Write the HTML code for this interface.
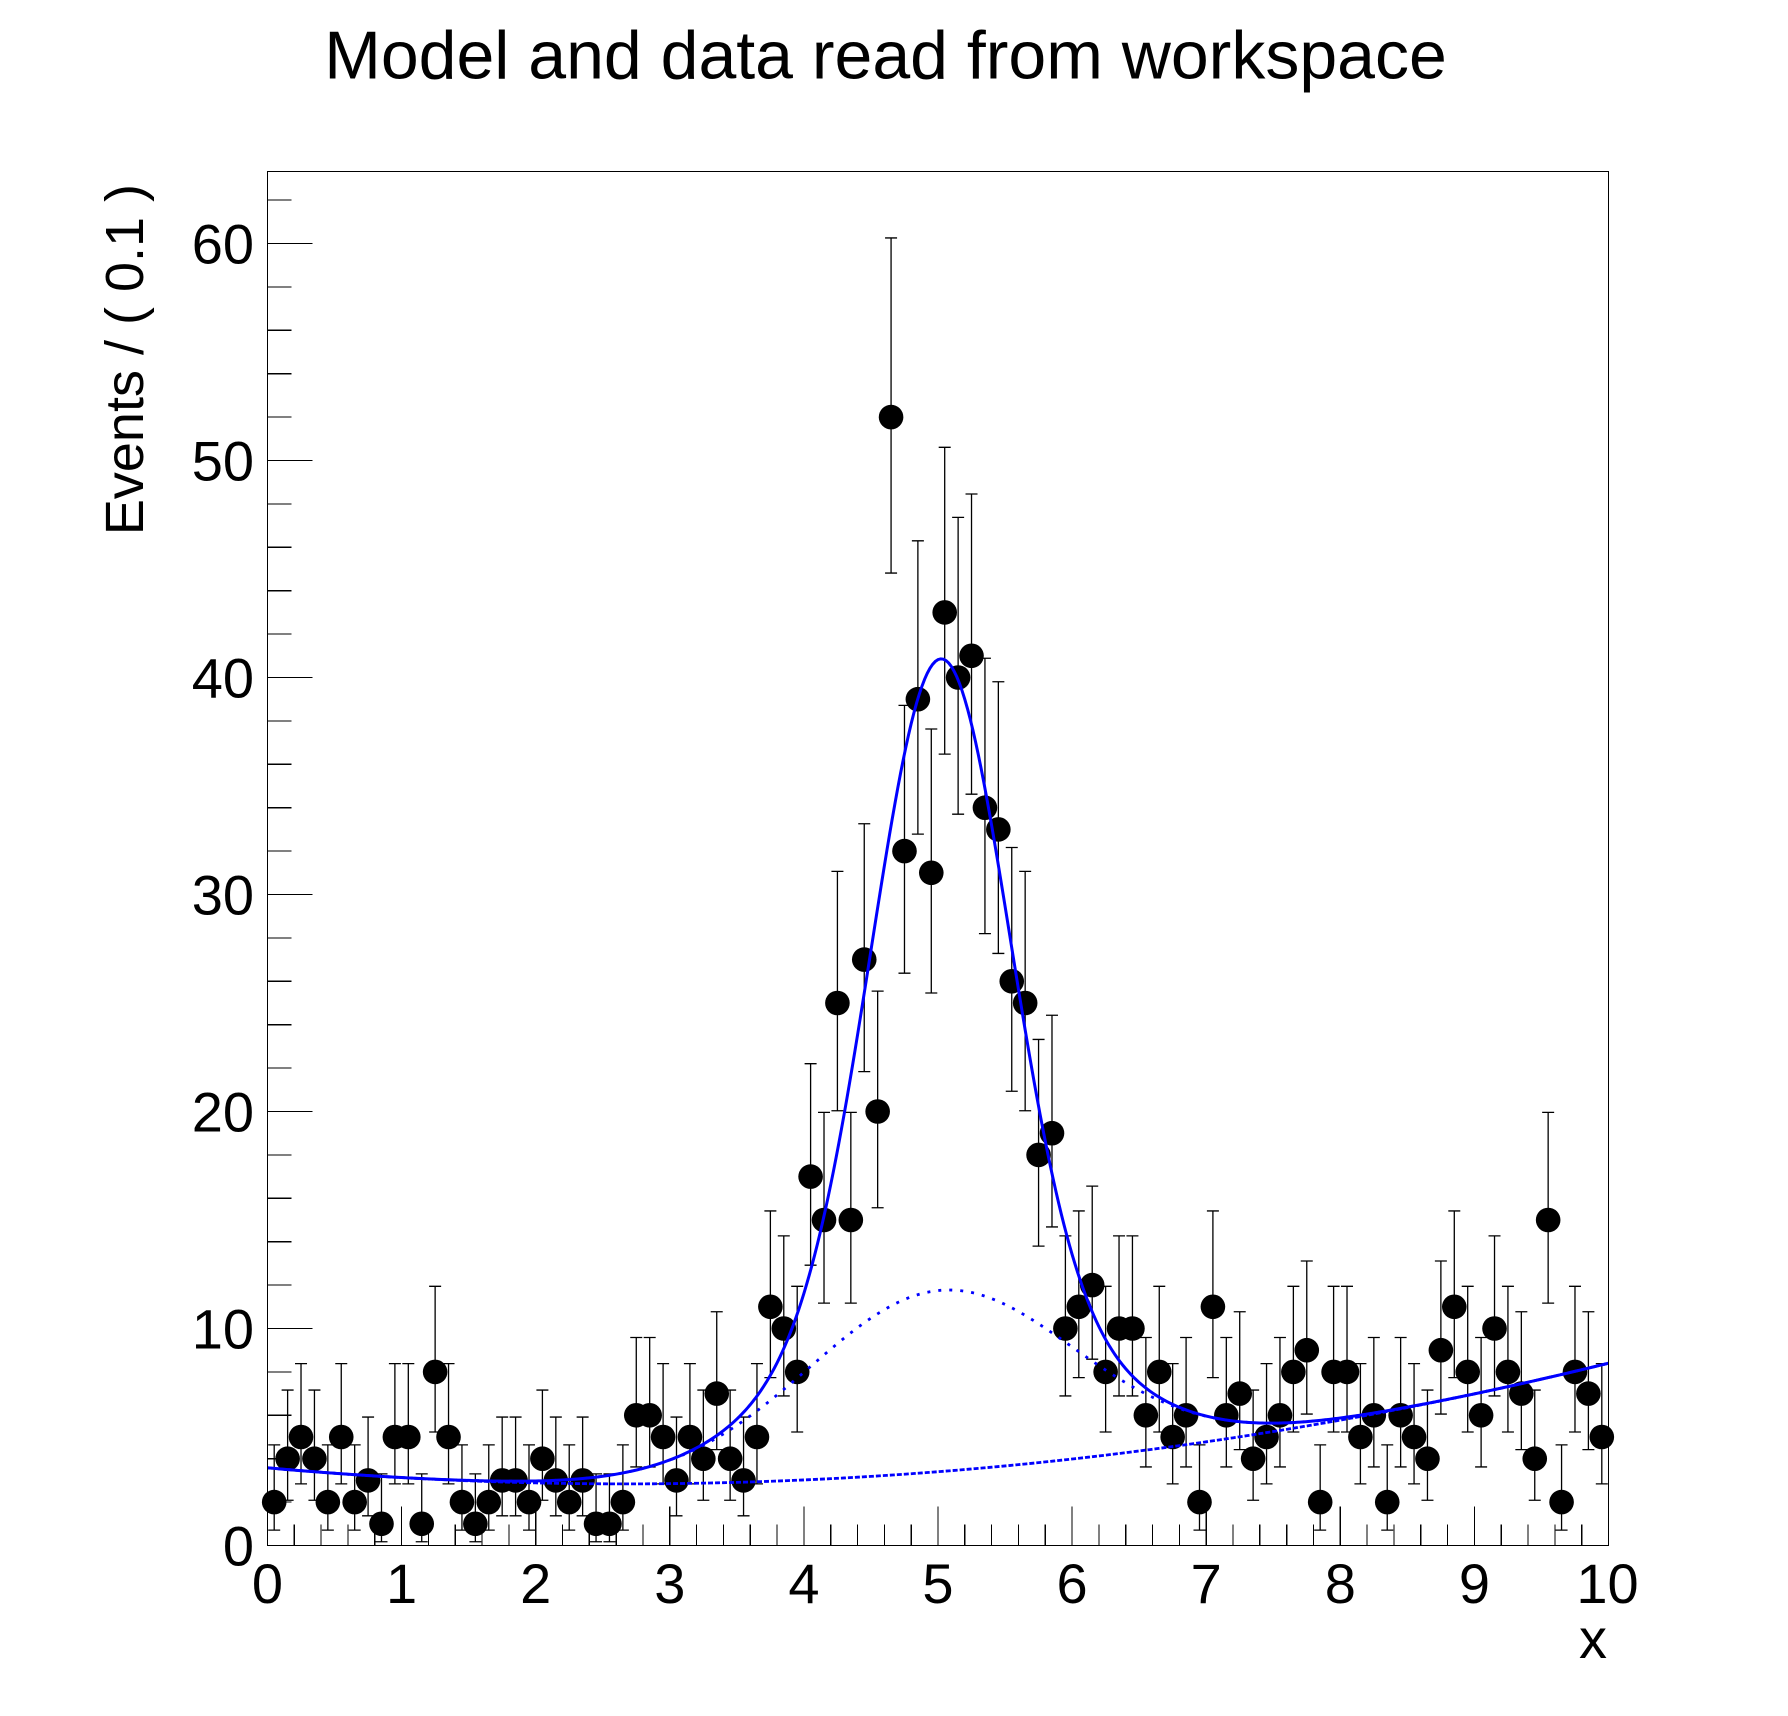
<!DOCTYPE html>
<html><head><meta charset="utf-8"><style>
html,body{margin:0;padding:0;background:#fff;}
svg{display:block;}
text{font-family:"Liberation Sans",Arial,Helvetica,sans-serif;fill:#000;}
</style></head><body>
<svg id="s" width="1788" height="1716" viewBox="0 0 1788 1716" xmlns="http://www.w3.org/2000/svg">
<rect x="0" y="0" width="1788" height="1716" fill="#fff"/>
<text x="885.5" y="78.5" font-size="68" text-anchor="middle">Model and data read from workspace</text>
<g id="data"></g>
<g id="curves"></g>
<rect x="267.5" y="171.5" width="1341" height="1374" fill="none" stroke="#000" stroke-width="1.2" shape-rendering="crispEdges"/>
<path id="ticks" d="" stroke="#000" stroke-width="1.2" fill="none" shape-rendering="crispEdges"/>
<g font-size="56" text-anchor="end">
<text x="254" y="1565.5">0</text>
<text x="254" y="1348.5">10</text>
<text x="254" y="1131.5">20</text>
<text x="254" y="914.5">30</text>
<text x="254" y="697.5">40</text>
<text x="254" y="480.5">50</text>
<text x="254" y="263.5">60</text>
</g>
<g font-size="56" text-anchor="middle">
<text x="267.5" y="1603">0</text>
<text x="401.6" y="1603">1</text>
<text x="535.7" y="1603">2</text>
<text x="669.8" y="1603">3</text>
<text x="803.9" y="1603">4</text>
<text x="938.0" y="1603">5</text>
<text x="1072.1" y="1603">6</text>
<text x="1206.2" y="1603">7</text>
<text x="1340.3" y="1603">8</text>
<text x="1474.4" y="1603">9</text>
<text x="1607.5" y="1603">10</text>
</g>
<text x="1607" y="1658" font-size="56" text-anchor="end">x</text>
<text transform="translate(143,184) rotate(-90)" font-size="54" text-anchor="end">Events / ( 0.1 )</text>
</svg>
<script>
(function(){
var NS="http://www.w3.org/2000/svg";
function X(v){return 267.5+v*134.1;}
function Y(v){return 1545.5-v*21.7;}
var d="";
for(var v=0;v<=62;v+=2){var L=(v%10===0)?45:24;d+="M267.5,"+Y(v).toFixed(2)+"h"+L;}
for(var k=0;k<=50;k++){var xv=k*0.2;var L2=(k%5===0)?39:21;d+="M"+X(xv).toFixed(2)+",1545.5v-"+L2;}
document.getElementById("ticks").setAttribute("d",d);
var vals=[2,4,5,4,2,5,2,3,1,5,
5,1,8,5,2,1,2,3,3,2,
4,3,2,3,1,1,2,6,6,5,
3,5,4,7,4,3,5,11,10,8,
17,15,25,15,27,20,52,32,39,31,
43,40,41,34,33,26,25,18,19,10,
11,12,8,10,10,6,8,5,6,2,
11,6,7,4,5,6,8,9,2,8,
8,5,6,2,6,5,4,9,11,8,
6,10,8,7,4,15,2,8,7,5];
function pcdf(n,mu){var t=Math.exp(-mu),s=t;for(var k=1;k<=n;k++){t*=mu/k;s+=t;}return s;}
function solve(f,target,lo,hi){for(var i=0;i<80;i++){var m=(lo+hi)/2;if(f(m)>target)lo=m;else hi=m;}return (lo+hi)/2;}
var a=0.1586553;
function lower(n){if(n===0)return 0;return solve(function(mu){return pcdf(n-1,mu);},1-a,0,n+30);}
function upper(n){return solve(function(mu){return pcdf(n,mu);},a,0,n+60);}
var g=document.getElementById("data");
var ed="";
for(var i=0;i<vals.length;i++){
 var n=vals[i];var x=X(0.05+0.1*i);
 var lo=Y(lower(n)),hi=Y(upper(n));
 ed+="M"+x.toFixed(2)+","+hi.toFixed(2)+"V"+lo.toFixed(2);
 ed+="M"+(x-6).toFixed(2)+","+hi.toFixed(2)+"h12";
 ed+="M"+(x-6).toFixed(2)+","+lo.toFixed(2)+"h12";
}
var p=document.createElementNS(NS,"path");
p.setAttribute("d",ed);p.setAttribute("stroke","#000");p.setAttribute("stroke-width","1.3");p.setAttribute("fill","none");
g.appendChild(p);
for(var j=0;j<vals.length;j++){
 var c=document.createElementNS(NS,"circle");
 c.setAttribute("cx",X(0.05+0.1*j).toFixed(2));c.setAttribute("cy",Y(vals[j]).toFixed(2));
 c.setAttribute("r","12.3");c.setAttribute("fill","#000");
 g.appendChild(c);
}
function bkg(x){return 3.58-0.554*x+0.1036*x*x;}
function s2(x){var u=x-5.02;return 8.35*Math.exp(-u*u/2);}
function s1(x){var u=x-5.02;return 29.1*Math.exp(-u*u/(2*0.25));}
var pb="",pm="",pt="";
for(var q=0;q<=500;q++){
 var xx=q*0.02;var b=bkg(xx),m2=b+s2(xx),t=m2+s1(xx);
 var cmd=(q===0?"M":"L");
 pb+=cmd+X(xx).toFixed(2)+","+Y(b).toFixed(2);
 pm+=cmd+X(xx).toFixed(2)+","+Y(m2).toFixed(2);
 pt+=cmd+X(xx).toFixed(2)+","+Y(t).toFixed(2);
}
var cg=document.getElementById("curves");
function mk(dd,w,dash){var e=document.createElementNS(NS,"path");e.setAttribute("d",dd);e.setAttribute("stroke","#0000ff");e.setAttribute("stroke-width",w);e.setAttribute("fill","none");if(dash)e.setAttribute("stroke-dasharray",dash);cg.appendChild(e);}
mk(pt,"3",null);
mk(pm,"2.8","3 8");
mk(pb,"2.8","5 2");
})();
</script>
</body></html>
